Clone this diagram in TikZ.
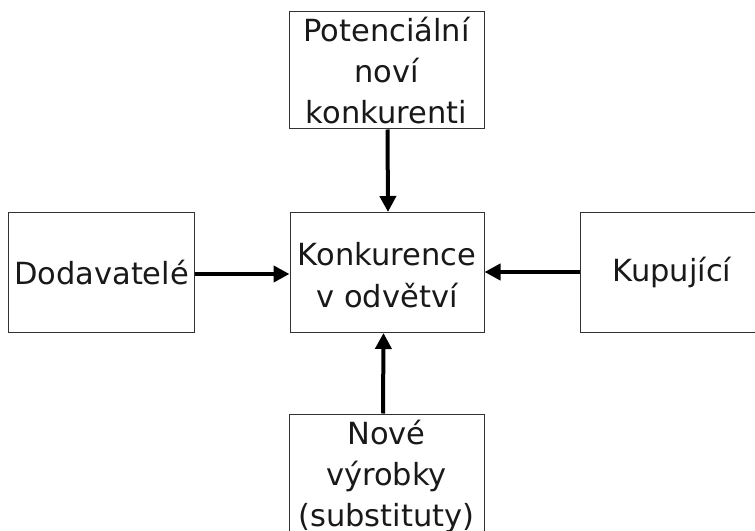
\documentclass[tikz,border=0pt]{standalone}
\usepackage{fontspec}
\setmainfont{DejaVu Sans}
\usetikzlibrary{arrows.meta}
\begin{document}
\begin{tikzpicture}[x=1bp,y=-1bp,
  box/.style={draw=black!80,line width=1bp,inner sep=0pt,align=center,
    font=\fontsize{30.5bp}{41bp}\selectfont,text=black!90},
  conn/.style={line width=4bp,-{Triangle[length=16bp,width=16bp]}}]
\useasboundingbox (0,0) rectangle (755,531);
\node[box,minimum width=195bp,minimum height=117bp] (top) at (386.5,70.5) {Potenciální\\noví\\konkurenti};
\node[box,minimum width=194bp,minimum height=120bp] (mid) at (387,272.5) {};
\node[box,draw=none,font=\fontsize{30.5bp}{42bp}\selectfont] (midtext) at (387,275) {Konkurence\\v odvětví};
\node[box,minimum width=185bp,minimum height=119bp] (left) at (101.5,272.5) {Dodavatelé};
\node[box,minimum width=184bp,minimum height=119bp] (right) at (672,272.5) {Kupující};
\node[box,minimum width=195bp,minimum height=119bp] (bot) at (386.5,473.5) {};
\node[box,draw=none] (bottext) at (386.5,476) {Nové\\výrobky\\(substituty)};
\draw[conn] ([xshift=1bp]top.south) -- ([xshift=1bp]mid.north);
\draw[conn] ([yshift=-1.5bp]left.east) -- ([yshift=-1.5bp]mid.west);
\draw[conn] ([yshift=0.5bp]right.west) -- ([yshift=0.5bp]mid.east);
\draw[conn] ([xshift=-3.5bp]bot.north) -- ([xshift=-3.5bp]mid.south);
\end{tikzpicture}
\end{document}
